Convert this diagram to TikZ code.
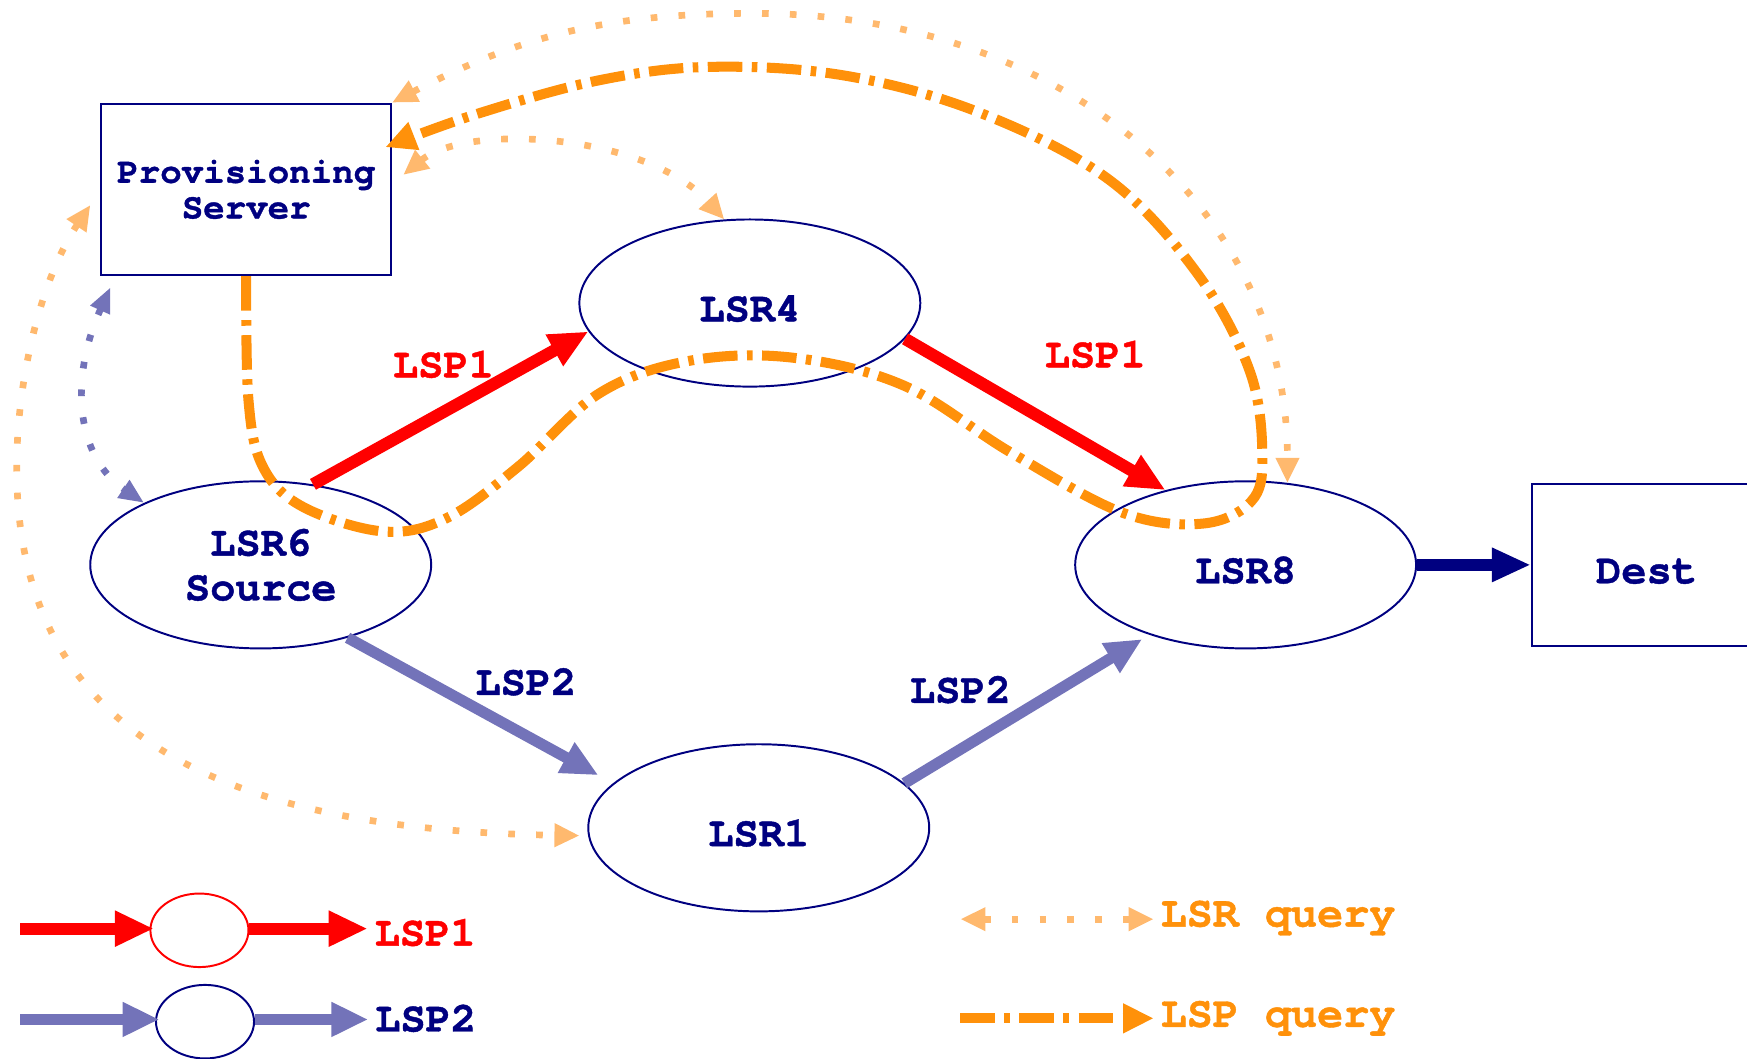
\documentclass[tikz,border=0pt]{standalone}
\usepackage{fontspec}
\setmonofont[BoldFeatures={FakeBold=1}]{TeX Gyre Cursor}
\usetikzlibrary{shapes.geometric, arrows.meta, positioning}
\definecolor{lsrnavy}{RGB}{0,0,128}
\definecolor{lsphatch}{RGB}{115,115,185}
\definecolor{qrylight}{RGB}{255,185,110}
\definecolor{qrydark}{RGB}{255,145,10}
\newcommand{\bigtt}{\ttfamily\bfseries\fontsize{21.5}{22.8}\selectfont}
\newcommand{\midtt}{\ttfamily\bfseries\fontsize{18.3}{18.2}\selectfont}
\newcommand{\keytt}{\ttfamily\bfseries\fontsize{22.2}{24}\selectfont}

\begin{document}
\begin{tikzpicture}[
  lsr/.style={ellipse, draw=lsrnavy, line width=1pt, minimum width=6.12cm, minimum height=3cm, inner sep=0pt, align=center, text=lsrnavy, font=\bigtt},
  hostbox/.style={draw=lsrnavy, line width=1pt, align=center, text=lsrnavy, font=\bigtt},
  oneline/.style={text height=0.66cm, text depth=0pt},
  keyring/.style={ellipse, line width=1pt, minimum width=1.76cm, minimum height=1.32cm, inner sep=0pt},
  tag/.style={font=\bigtt},
  lspone/.style={red, line width=0.22cm, -{Triangle[length=0.7cm, width=0.6cm]}},
  lsptwo/.style={lsphatch, line width=0.2cm, -{Triangle[length=0.66cm, width=0.58cm]}},
  lsrq/.style={qrylight, line width=0.12cm, dash pattern=on 0.12cm off 0.38cm, {Triangle[length=0.45cm, width=0.4cm]}-{Triangle[length=0.45cm, width=0.4cm]}},
  srvq/.style={lsphatch, line width=0.12cm, dash pattern=on 0.12cm off 0.38cm, {Triangle[length=0.45cm, width=0.36cm]}-{Triangle[length=0.45cm, width=0.36cm]}},
  lspq/.style={qrydark, line width=0.18cm, dash pattern=on 0.62cm off 0.17cm on 0.1cm off 0.17cm, -{Triangle[length=0.55cm, width=0.5cm]}}
]
  \useasboundingbox (0,0) rectangle (31.36,19);

  % Routers and hosts
  \node[hostbox, minimum width=5.2cm, minimum height=3.08cm, font=\midtt] (server) at (4.42,15.6) {Provisioning\\Server};
  \node[lsr, oneline] (LSR4) at (13.46,13.56) {LSR4};
  \node[lsr] (LSR6) at (4.68,8.86) {LSR6\\Source};
  \node[lsr, oneline] (LSR8) at (22.36,8.86) {LSR8};
  \node[lsr, oneline] (LSR1) at (13.62,4.14) {LSR1};
  \node[hostbox, oneline, minimum width=4.12cm, minimum height=2.92cm, anchor=west] (dest) at (27.48,8.86) {Dest};

  % Label switched paths
  \draw[lspone] (LSR6.57) -- (LSR4.190);
  \draw[lspone] (LSR4.347) -- (LSR8.137);
  \draw[lsptwo, shorten >=0.3cm] (LSR6.320) -- (LSR1.163);
  \draw[lsptwo, shorten >=0.15cm] (LSR1.17) -- (LSR8.216);
  \draw[lsrnavy, line width=0.21cm, -{Triangle[length=0.7cm, width=0.57cm]}] (LSR8.east) -- (dest.west);

  \node[tag, text=red] (lspa) at (7.96,12.46) {LSP1};
  \node[tag, text=red] (lspb) at (19.66,12.64) {LSP1};
  \node[tag, text=lsrnavy] (lspc) at (9.44,6.76) {LSP2};
  \node[tag, text=lsrnavy] (lspd) at (17.24,6.62) {LSP2};

  % LSR queries
  \draw[lsrq] ([shift={(-0.18,-0.28)}]server.west) .. controls (0.74,14.0) and (0.3,12.2) .. (0.3,10.6)
    .. controls (0.3,5.8) and (4.0,4.1) .. ([shift={(-0.14,-0.14)}]LSR1.west);
  \draw[lsrq] (server.north east) .. controls (9.36,18.36) and (10.9,18.76) .. (13.5,18.76)
    .. controls (19.2,18.76) and (23.12,15.2) .. (LSR8.63);
  \draw[lsrq] ([shift={(0.2,0.26)}]server.east) .. controls (8.4,16.8) and (11.6,16.6) .. (LSR4.107);
  \draw[srvq] ([shift={(0.18,-0.2)}]server.south west) .. controls (1.24,12.2) and (1.36,10.8) .. (LSR6.152);

  % LSP query
  \coordinate (srvin) at ([shift={(-0.12,-0.8)}]server.north east);
  \draw[lspq] plot[smooth, tension=0.6] coordinates {(server.south) (4.46,11.82) (4.72,10.62) (5.44,9.9)
    (6.88,9.46) (8.02,9.7) (9.3,10.62) (10.76,11.94) (12.36,12.52) (14.22,12.58) (16.22,12.08)
    (18.14,10.88) (20.14,9.8) (21.58,9.6) (22.46,10.0) (22.66,10.8) (22.44,12.32) (21.5,14.08)
    (19.9,15.78) (17.58,16.98) (15.18,17.64) (12.78,17.8) (10.76,17.56) (8.58,16.96) (srvin)};

  % Key
  \coordinate (keya) at (0.36,2.33);
  \node[keyring, draw=red] (ringa) at (3.58,2.3) {};
  \node[tag, text=red, anchor=west] (keyatxt) at (6.6,2.26) {LSP1};
  \draw[lspone, shorten >=-0.08cm] (keya) -- (keya -| ringa.west);
  \draw[lspone] (ringa.east |- keya) -- (keya -| keyatxt.west);

  \coordinate (keyb) at (0.36,0.7);
  \node[keyring, draw=lsrnavy] (ringb) at (3.68,0.66) {};
  \node[tag, text=lsrnavy, anchor=west] (keybtxt) at (6.61,0.72) {LSP2};
  \draw[lsptwo, shorten >=-0.08cm] (keyb) -- (keyb -| ringb.west);
  \draw[lsptwo] (ringb.east |- keyb) -- (keyb -| keybtxt.west);

  \coordinate (keyc) at (17.24,2.5);
  \node[tag, font=\keytt, text=qrydark, anchor=west] (keyctxt) at (20.71,2.52) {LSR query};
  \draw[lsrq] (keyc) -- (keyc -| keyctxt.west);

  \coordinate (keyd) at (17.24,0.72);
  \node[tag, font=\keytt, text=qrydark, anchor=west] (keydtxt) at (20.71,0.72) {LSP query};
  \draw[lspq] (keyd) -- (keyd -| keydtxt.west);
\end{tikzpicture}
\end{document}
